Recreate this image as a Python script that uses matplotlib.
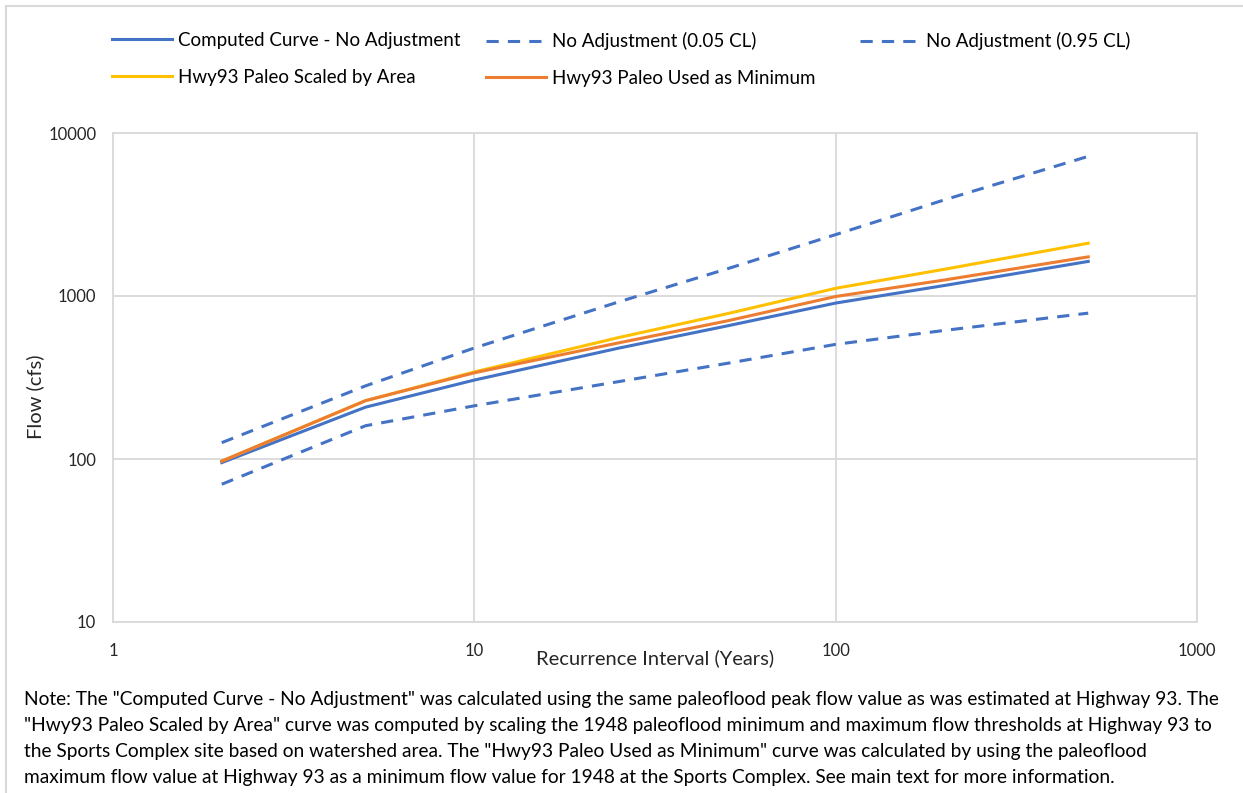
import numpy as np
import matplotlib.pyplot as plt
from matplotlib.lines import Line2D

plt.rcParams['font.family'] = ['Lato', 'DejaVu Sans']

# Datos (periodo de retorno en años, caudal en cfs)
periodo = [2, 5, 10, 25, 50, 100, 200, 500]
curva_calc = [95, 208, 305, 478, 655, 905, 1160, 1630]
cl_005 = [126, 281, 480, 918, 1466, 2380, 3890, 7190]
cl_095 = [70, 160, 212, 298, 386, 505, 615, 785]
paleo_area = [97, 228, 342, 555, 778, 1115, 1459, 2108]
paleo_min = [97, 228, 338, 515, 703, 993, 1254, 1738]

etiquetas = ['Computed Curve - No Adjustment', 'No Adjustment (0.05 CL)',
             'No Adjustment (0.95 CL)', 'Hwy93 Paleo Scaled by Area',
             'Hwy93 Paleo Used as Minimum']

azul = '#4472C4'
naranja = '#ED7D31'
amarillo = '#FFC000'
gris = '#D9D9D9'

W, H = 1243, 793
fig = plt.figure(figsize=(W / 100, H / 100), dpi=100)
ax = fig.add_axes([113 / W, 1 - 622 / H, (1197 - 113) / W, (622 - 133) / H])

lw = 2.2
ax.plot(periodo, cl_005, color=azul, lw=lw, dashes=(4, 3))
ax.plot(periodo, cl_095, color=azul, lw=lw, dashes=(4, 3))
ax.plot(periodo, curva_calc, color=azul, lw=lw)
ax.plot(periodo, paleo_area, color=amarillo, lw=lw)
ax.plot(periodo, paleo_min, color=naranja, lw=lw)

ax.set_xscale('log')
ax.set_yscale('log')
ax.set_xlim(1, 1000)
ax.set_ylim(10, 10000)
ax.set_xticks([1, 10, 100, 1000])
ax.set_xticklabels(['1', '10', '100', '1000'])
ax.set_yticks([10, 100, 1000, 10000])
ax.set_yticklabels(['10', '100', '1000', '10000'])
ax.minorticks_off()
ax.tick_params(length=0, labelsize=12, colors='#262626')
ax.tick_params(axis='x', pad=15)
ax.tick_params(axis='y', pad=12)
ax.grid(True, color=gris, lw=1.3)
ax.set_axisbelow(True)
for s in ax.spines.values():
    s.set_color(gris)
    s.set_linewidth(1.3)

ax.set_xlabel('Recurrence Interval (Years)', fontsize=14.5, color='#262626')
ax.xaxis.set_label_coords(0.5, -0.056)
ax.set_ylabel('Flow (cfs)', fontsize=14.5, color='#262626', va='center')
ax.yaxis.set_label_coords(-0.072, 0.46)

# Leyenda en dos filas, colocada por columnas
def h(color, dash=False):
    if dash:
        return Line2D([], [], color=color, lw=lw, dashes=(4, 3))
    return Line2D([], [], color=color, lw=lw)

columnas = [
    (112, [h(azul), h(amarillo)], [etiquetas[0], etiquetas[3]]),
    (486, [h(azul, True), h(naranja)], [etiquetas[1], etiquetas[4]]),
    (860, [h(azul, True)], [etiquetas[2]]),
]
for x0, hs, labs in columnas:
    fig.legend(hs, labs, loc='upper left', bbox_to_anchor=(x0 / W, 1 - 32 / H),
               frameon=False, fontsize=13.5, handlelength=3.2, handletextpad=0.3,
               borderaxespad=0, borderpad=0, labelspacing=1.05)

nota = ['Note: The "Computed Curve - No Adjustment" was calculated using the same paleoflood peak flow value as was estimated at Highway 93. The',
        '"Hwy93 Paleo Scaled by Area" curve was computed by scaling the 1948 paleoflood minimum and maximum flow thresholds at Highway 93 to',
        'the Sports Complex site based on watershed area. The "Hwy93 Paleo Used as Minimum" curve was calculated by using the paleoflood',
        'maximum flow value at Highway 93 as a minimum flow value for 1948 at the Sports Complex. See main text for more information.']
for i, linea in enumerate(nota):
    fig.text(24 / W, 1 - (700 + 25.7 * i) / H, linea, fontsize=13.75,
             va='center', ha='left', color='black')

# Borde del área del gráfico
fig.add_artist(Line2D([6 / W, 6 / W], [0, 1 - 6 / H], color=gris, lw=1.5,
                      transform=fig.transFigure))
fig.add_artist(Line2D([6 / W, 1], [1 - 6 / H, 1 - 6 / H], color=gris, lw=1.5,
                      transform=fig.transFigure))

fig.savefig('out.png', dpi=100)
